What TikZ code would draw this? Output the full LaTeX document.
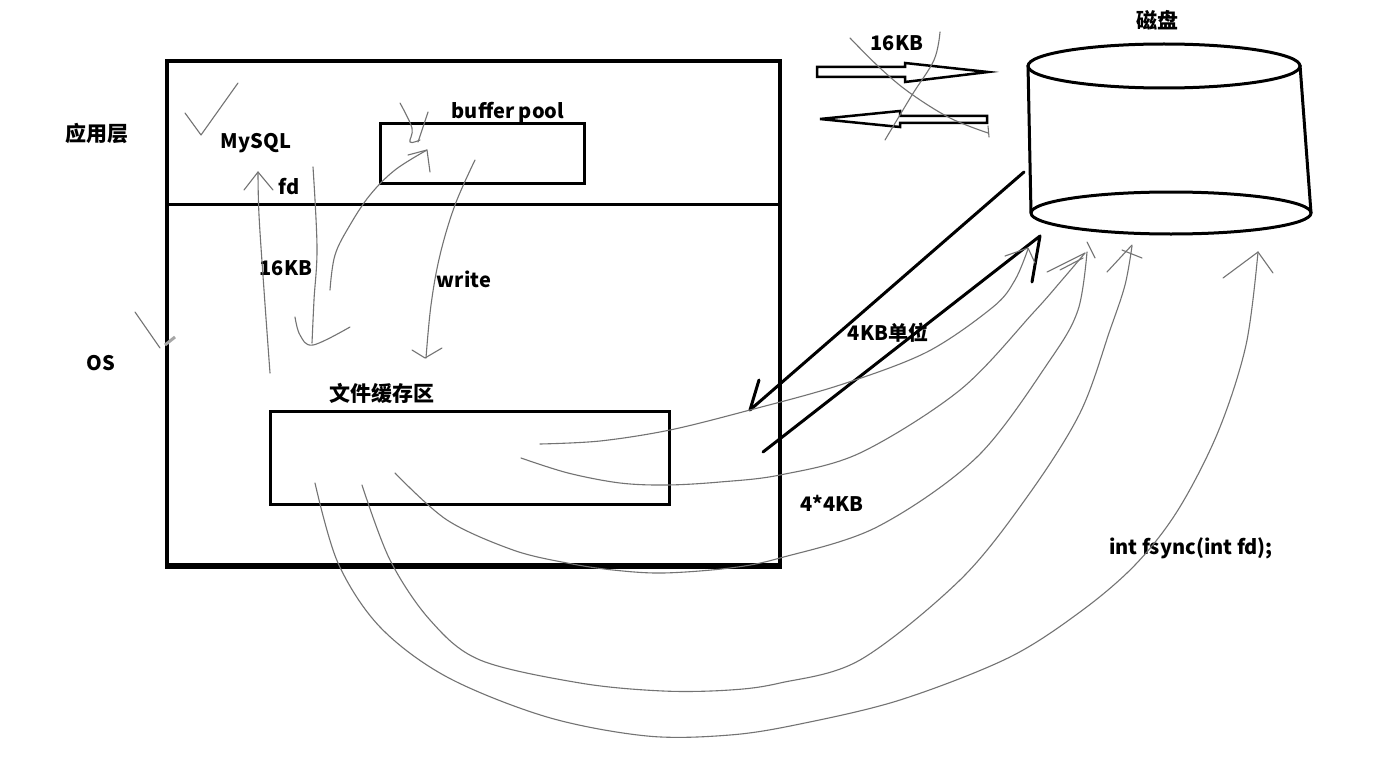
\documentclass[tikz,border=0pt]{standalone}
\usepackage{fontspec}
\setmainfont{Noto Sans CJK SC}
\begin{document}
\begin{tikzpicture}[x=1pt,y=-1pt,
  heavy/.style={line width=3pt, line cap=round, line join=round},
  sk/.style={draw=black!55, line width=1.1pt, line cap=round, line join=round},
  lbl/.style={font=\fontsize{20}{24}\selectfont\bfseries, inner sep=0pt},
  cjklbl/.style={font=\fontsize{21}{25}\selectfont\bfseries, inner sep=0pt},
  box/.style={draw, line width=3pt, inner sep=0pt, outer sep=0pt},
  hollow/.style={draw, line width=2.5pt, line join=miter, fill=white}]
\useasboundingbox (0,0) rectangle (1391,757);
\fill[white] (0,0) rectangle (1391,757);

% ---------- left structure ----------
\node[box, line width=3.5pt, minimum width=613pt, minimum height=506pt] (osbox) at (473.5,314) {};
\draw[line width=6pt] (165,566) -- (781.5,566);
\coordinate (divL) at (167,204);
\coordinate (divR) at (780,204);
\draw[line width=3pt] (divL) -- (divR);
\node[box, minimum width=204pt, minimum height=59pt] (bp) at (482,153.5) {};
\node[box, minimum width=399pt, minimum height=93pt] (fc) at (469.5,457.5) {};

% ---------- labels ----------
\node[cjklbl] (app) at (97,133) {应用层};
\node[lbl] (os) at (101,363) {OS};
\node[lbl] (mysql) at (256,143) {MySQL};
\node[lbl] (fd) at (289,187) {fd};
\node[lbl] (kb16a) at (286,268) {16KB};
\node[lbl] (write) at (464,279) {write};
\node[lbl] (bpl) at (508,112) {buffer pool};
\node[cjklbl] (fcl) at (382,393) {文件缓存区};
\node[lbl] (kb16b) at (897,43) {16KB};
\node[cjklbl] (disk) at (1157,20) {磁盘};
\node[lbl] (kb4) at (888,333) {4KB单位};
\node[lbl] (kb44) at (832,503) {4*4KB};
\node[lbl] (fsync) at (1191,548) {int fsync(int fd);};

% ---------- ticks ----------
\draw[sk] (185,113) -- (201,135) -- (238,83);
\draw[sk] (135,312) -- (160,348);
\draw[draw=black!35, line width=3pt] (165,345) -- (175,337);

% ---------- arrows inside OS ----------
% fd up
\draw[sk] plot[smooth, tension=0.6] coordinates {(270,373) (264,290) (259,215) (258,172)};
\draw[sk] (244,190) -- (258,172) -- (273,190);
% 16KB down
\draw[sk] plot[smooth, tension=0.6] coordinates {(313,167) (317,247) (314,300) (312,343)};
\draw[sk] plot[smooth, tension=0.6] coordinates {(295,317) (300,335) (313,345) (350,327)};
% read up into buffer pool
\draw[sk] plot[smooth, tension=0.6] coordinates {(330,290) (335,255) (350,225) (370,195) (395,170) (427,150)};
\draw[sk] (408,155) -- (427,150) -- (430,172);
\draw[sk] plot[smooth, tension=0.6] coordinates {(400,103) (412,128) (410,142) (420,140)};
\draw[sk] (428,112) -- (418,142);
% write down
\draw[sk] plot[smooth, tension=0.6] coordinates {(475,160) (455,205) (440,255) (431,305) (426,358)};
\draw[sk] (412,350) -- (425,358) -- (442,348);

% ---------- hollow arrows ----------
\draw[hollow] (817,67) -- (905,67) -- (905,63) -- (988,72) -- (905,82) -- (905,77) -- (817,77) -- cycle;
\draw[hollow] (987,116) -- (900,116) -- (900,111) -- (820,119) -- (900,127) -- (900,123) -- (987,123) -- cycle;
\draw[sk] plot[smooth, tension=0.6] coordinates {(850,38) (880,68) (910,93) (950,118) (988,133)};
\draw[sk] (988,126) -- (989,137);
\draw[sk] plot[smooth, tension=0.6] coordinates {(940,32) (934,60) (912,95) (885,140)};

% ---------- disk ----------
\coordinate (topc) at (1164,66);
\coordinate (botc) at (1171,213);
\draw[line width=3pt] (topc) ellipse [x radius=136pt, y radius=22pt];
\draw[line width=3pt] (botc) ellipse [x radius=140pt, y radius=21pt];
\draw[line width=3pt] (1028,65) -- (1031,213);
\draw[line width=3pt] (1300,65) -- (1311,213);

% ---------- thick lines between cache and disk ----------
\coordinate (l1a) at (1024,172);
\coordinate (l1b) at (750,410);
\draw[heavy] (l1a) -- (l1b) -- (759,380);
\coordinate (l2a) at (763,452);
\coordinate (l2b) at (1040,236);
\draw[heavy] (l2a) -- (l2b) -- (1032,282);

% ---------- fsync curves ----------
\draw[sk] plot[smooth, tension=0.55] coordinates {(540,444) (600,441) (670,430) (750,410) (840,385) (927,352) (993,307) (1015,280) (1028,249)};
\draw[sk] (1005,256) -- (1028,248) -- (1035,263);

\draw[sk] plot[smooth, tension=0.55] coordinates {(521,458) (568,473) (620,483) (667,485) (720,482) (780,475) (860,453) (960,390) (1033,313) (1062,280) (1085,253)};
\draw[sk] (1047,272) -- (1085,253);
\draw[sk] (1060,270) -- (1083,258);
\draw[sk] (1087,242) -- (1095,258);

\draw[sk] plot[smooth, tension=0.55] coordinates {(395,473) (447,520) (513,550) (567,563) (613,570) (663,573) (730,568) (780,558) (877,527) (977,457) (1050,360) (1078,310) (1087,252)};

\draw[sk] plot[smooth, tension=0.55] coordinates {(362,485) (390,560) (430,620) (480,660) (580,683) (663,691) (730,690) (780,683) (860,660) (960,580) (1027,497) (1080,413) (1110,330) (1125,285) (1132,246)};
\draw[sk] (1107,272) -- (1132,245);
\draw[sk] (1122,250) -- (1142,258);

\draw[sk] plot[smooth, tension=0.55] coordinates {(315,483) (338,563) (380,627) (447,677) (547,717) (647,736) (730,735) (800,724) (900,700) (1008,658) (1080,612) (1135,565) (1178,510) (1218,432) (1246,345) (1258,252)};
\draw[sk] (1223,278) -- (1258,252) -- (1273,273);
\end{tikzpicture}
\end{document}
